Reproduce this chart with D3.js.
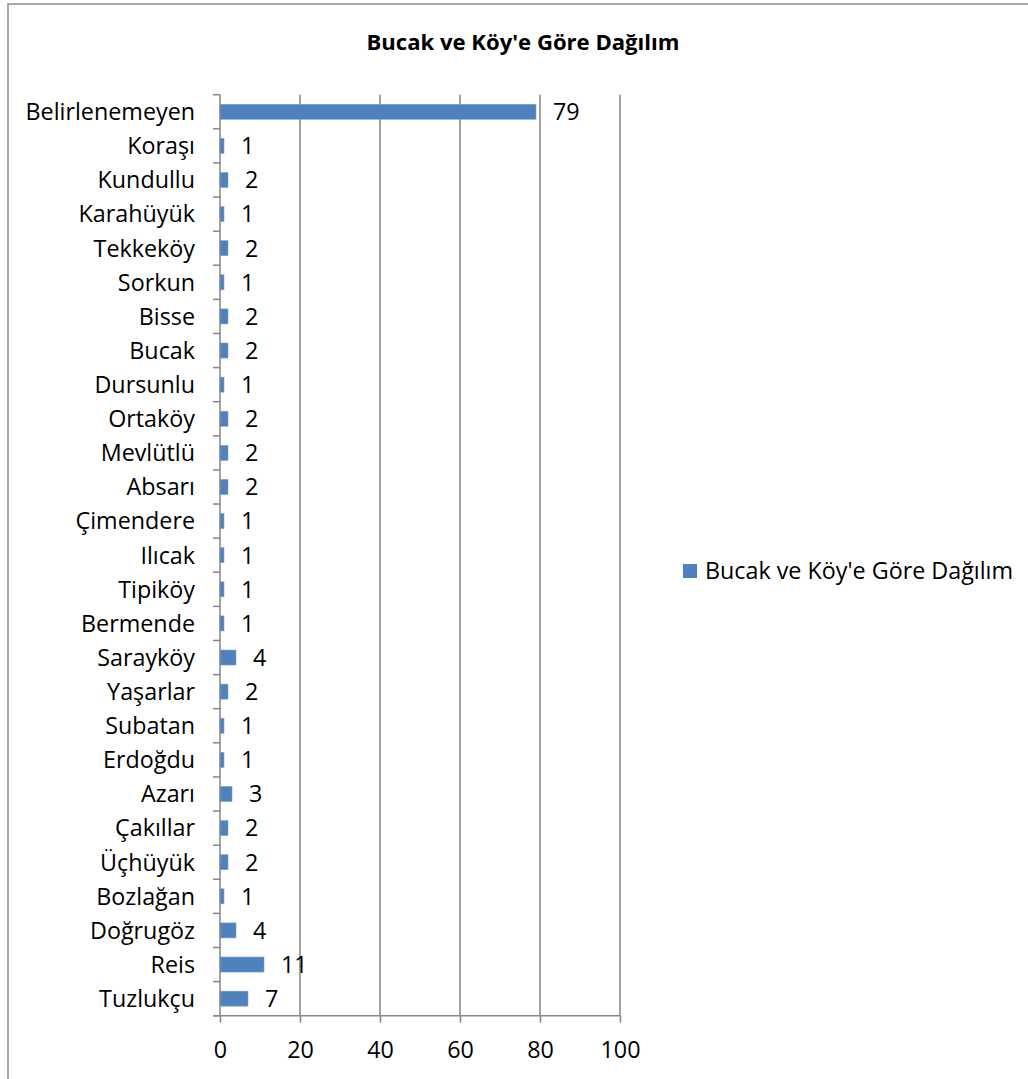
<!DOCTYPE html>
<html>
<head>
<meta charset="utf-8">
<script src="https://cdn.jsdelivr.net/npm/d3@7"></script>
<style>
  body { margin: 0; background: #fff; }
  svg { display: block; }
</style>
</head>
<body>
<svg id="chart" width="1028" height="1079"></svg>
<script>
// data
let chartTitle = "Bucak ve Köy'e Göre Dağılım";
let seriesName = "Bucak ve Köy'e Göre Dağılım";
let categories = ["Belirlenemeyen", "Koraşı", "Kundullu", "Karahüyük", "Tekkeköy", "Sorkun", "Bisse", "Bucak",
    "Dursunlu", "Ortaköy", "Mevlütlü", "Absarı", "Çimendere", "Ilıcak", "Tipiköy", "Bermende", "Sarayköy",
    "Yaşarlar", "Subatan", "Erdoğdu", "Azarı", "Çakıllar", "Üçhüyük", "Bozlağan", "Doğrugöz", "Reis", "Tuzlukçu"];
let values = [79, 1, 2, 1, 2, 1, 2, 2, 1, 2, 2, 2, 1, 1, 1, 1, 4, 2, 1, 1, 3, 2, 2, 1, 4, 11, 7];
let xTicks = [0, 20, 40, 60, 80, 100];

const FONT = "'Open Sans', 'Noto Sans', sans-serif";
const LABEL_SIZE = 23.3;
const barColor = "#4f81bd";
const gridColor = "#868686";

let svg = d3.select("#chart");
let margin = {left: 220, top: 94.7, right: 408, bottom: 63.3};
let width = 1028 - margin.left - margin.right;
let height = 1079 - margin.top - margin.bottom;

// outer chart border (right and bottom edges lie outside the picture)
svg.append("rect")
    .attr("x", 8).attr("y", 4)
    .attr("width", 1040).attr("height", 1100)
    .attr("fill", "none")
    .attr("stroke", "#8c8c8c")
    .attr("stroke-width", 1.5);

svg.append("text")
    .attr("x", 523).attr("y", 50)
    .attr("text-anchor", "middle")
    .attr("font-family", FONT)
    .attr("font-weight", "bold")
    .attr("font-size", 22.1)
    .attr("fill", "#000")
    .text(chartTitle);

let g = svg.append("g").attr("transform", `translate(${margin.left},${margin.top})`);

let x = d3.scaleLinear().domain([0, 100]).range([0, width]);
let y = d3.scaleBand().domain(categories).range([0, height]).paddingInner(0.56).paddingOuter(0.28);

// vertical gridlines
g.append("g").selectAll("line").data(xTicks.slice(1)).enter().append("line")
    .attr("x1", d => x(d)).attr("x2", d => x(d))
    .attr("y1", 0).attr("y2", height)
    .attr("stroke", gridColor).attr("stroke-width", 1.5);

// bars
g.append("g").selectAll("rect").data(values).enter().append("rect")
    .attr("x", x(0))
    .attr("y", (d, i) => y(categories[i]))
    .attr("width", d => x(d) - x(0))
    .attr("height", y.bandwidth())
    .attr("fill", barColor)
    .attr("stroke", "#7ea2d0")
    .attr("stroke-width", 0.6);

// value labels
g.append("g").selectAll("text").data(values).enter().append("text")
    .attr("x", d => x(d) + 17)
    .attr("y", (d, i) => y(categories[i]) + y.bandwidth() / 2)
    .attr("dy", "0.36em")
    .attr("font-family", FONT)
    .attr("font-size", LABEL_SIZE)
    .attr("fill", "#000")
    .text(d => d);

// category axis
let step = height / categories.length;
let yAxis = g.append("g");
yAxis.append("line")
    .attr("x1", 0).attr("x2", 0).attr("y1", 0).attr("y2", height)
    .attr("stroke", gridColor).attr("stroke-width", 1.5);
yAxis.selectAll("line.tick").data(d3.range(categories.length + 1)).enter().append("line")
    .attr("class", "tick")
    .attr("x1", -7).attr("x2", 0)
    .attr("y1", i => i * step).attr("y2", i => i * step)
    .attr("stroke", gridColor).attr("stroke-width", 1.5);
yAxis.selectAll("text").data(categories).enter().append("text")
    .attr("x", -25)
    .attr("y", d => y(d) + y.bandwidth() / 2)
    .attr("dy", "0.36em")
    .attr("text-anchor", "end")
    .attr("font-family", FONT)
    .attr("font-size", LABEL_SIZE)
    .attr("fill", "#000")
    .text(d => d);

// value axis
let xAxis = g.append("g")
    .attr("transform", `translate(0,${height})`)
    .call(d3.axisBottom(x).tickValues(xTicks).tickSize(7).tickPadding(19));
xAxis.select(".domain").attr("stroke", gridColor).attr("stroke-width", 1.5)
    .attr("d", `M-7,0H${width}`);
xAxis.selectAll(".tick line").attr("stroke", gridColor).attr("stroke-width", 1.5);
xAxis.selectAll(".tick text")
    .attr("font-family", FONT)
    .attr("font-size", LABEL_SIZE)
    .attr("fill", "#000");

// legend
let legend = svg.append("g").attr("transform", "translate(683,564)");
legend.append("rect")
    .attr("width", 14).attr("height", 14)
    .attr("fill", barColor);
legend.append("text")
    .attr("x", 22).attr("y", 7)
    .attr("dy", "0.36em")
    .attr("font-family", FONT)
    .attr("font-size", LABEL_SIZE)
    .attr("fill", "#000")
    .text(seriesName);
</script>
</body>
</html>
